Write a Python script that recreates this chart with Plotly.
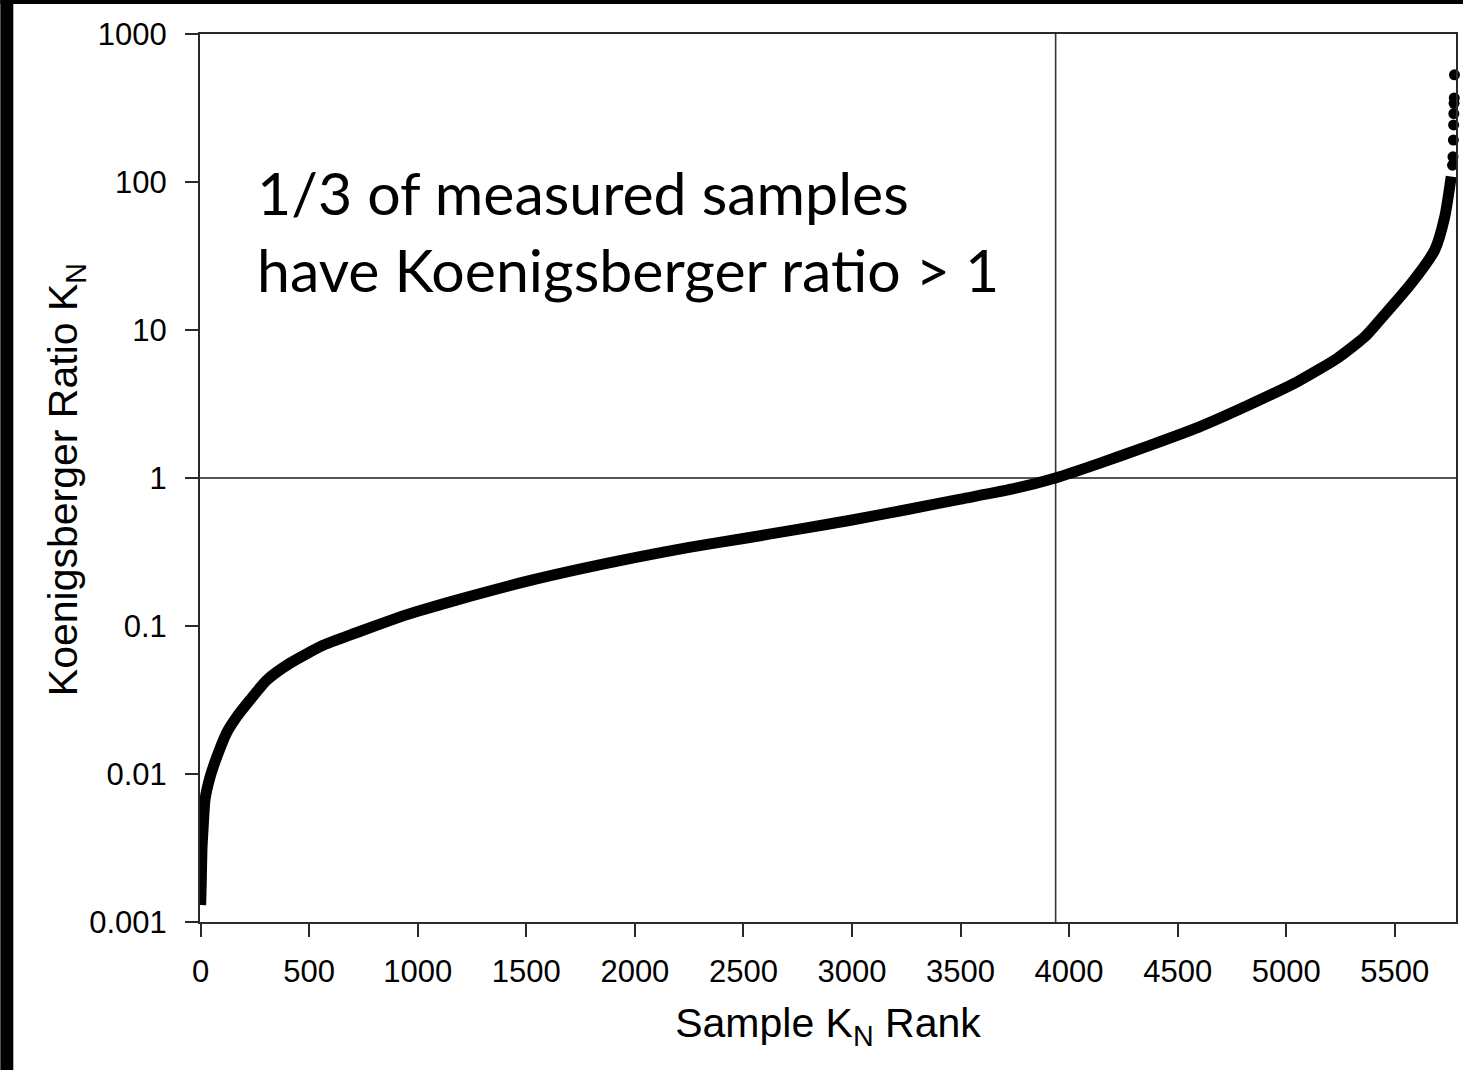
import plotly.graph_objects as go

# ---- data ----
rank = [0, 3, 6, 12, 20, 43, 74, 120, 166, 227, 304, 411, 564, 717, 932,
        1000, 1250, 1500, 1750, 2000, 2250, 2500, 2750, 3000, 3250, 3500, 3750,
        3937, 4136, 4366, 4595, 4825, 5055, 5239, 5362, 5423, 5577, 5684, 5730, 5760]
kn = [0.0013, 0.0019, 0.0031, 0.0045, 0.0067, 0.0095, 0.013, 0.019, 0.0243, 0.0316, 0.043,
      0.056, 0.074, 0.090, 0.117,
      0.126, 0.16, 0.20, 0.243, 0.29, 0.34, 0.39, 0.45, 0.52, 0.61, 0.72, 0.85,
      1.0, 1.25, 1.65, 2.20, 3.10, 4.50, 6.5, 9.0, 11.3, 20.7, 34.7, 58, 109]

# isolated high-value samples at the top end
tail_rank = [5766, 5768, 5770, 5771, 5772, 5773, 5774, 5775]
tail_kn = [130, 148, 192, 243, 290, 340, 370, 530]

x_ticks = [0, 500, 1000, 1500, 2000, 2500, 3000, 3500, 4000, 4500, 5000, 5500]
y_ticks = [0.001, 0.01, 0.1, 1, 10, 100, 1000]
y_ticktext = ["0.001", "0.01", "0.1", "1", "10", "100", "1000"]

threshold_kn = 1
threshold_rank = 3938

fig = go.Figure()
fig.add_trace(go.Scatter(x=rank, y=kn, mode="lines",
                         line=dict(color="black", width=11, shape="spline", smoothing=0.6),
                         showlegend=False))
fig.add_trace(go.Scatter(x=tail_rank, y=tail_kn, mode="markers", cliponaxis=False,
                         marker=dict(color="black", size=11, symbol="circle"),
                         showlegend=False))

W, H = 1465, 1070
L, R, T, B = 200, 7, 34, 148
pw, ph = W - L - R, H - T - B

axis_font = dict(family="Liberation Sans, Arial", size=31, color="black")
title_font = dict(family="Liberation Sans, Arial", size=41, color="black")

fig.update_layout(
    width=W, height=H,
    margin=dict(l=L, r=R, t=T, b=B, pad=0),
    paper_bgcolor="white", plot_bgcolor="white",
    xaxis=dict(range=[-3, 5782], tickvals=x_ticks, ticks="outside", ticklen=13,
               tickwidth=2, tickcolor="#2a2a2a", showline=True, linecolor="#2a2a2a",
               linewidth=2, mirror=True, showgrid=False, zeroline=False,
               tickfont=axis_font, ticklabelstandoff=8,
               title=dict(text="Sample K<sub>N</sub> Rank", font=title_font, standoff=20)),
    yaxis=dict(type="log", range=[-3, 3], tickvals=y_ticks, ticktext=y_ticktext,
               ticks="outside", ticklen=13, tickwidth=2, tickcolor="#2a2a2a",
               showline=True, linecolor="#2a2a2a", linewidth=2, mirror=True,
               showgrid=False, zeroline=False, tickfont=axis_font, ticklabelstandoff=12),
    annotations=[
        dict(text="1/3 of measured samples<br>have Koenigsberger ratio > 1",
             xref="paper", yref="paper", x=(255 - L) / pw, y=1 - (155 - T) / ph,
             xanchor="left", yanchor="top", align="left", showarrow=False,
             font=dict(family="Lato, Open Sans", size=59, color="black")),
        dict(text="Koenigsberger Ratio K<sub>N</sub>", textangle=-90,
             xref="paper", yref="paper", x=(66 - L) / pw, y=1 - (480 - T) / ph,
             xanchor="center", yanchor="middle", showarrow=False, font=title_font),
    ],
)

fig.add_hline(y=threshold_kn, line=dict(color="#1e1e1e", width=1.6), layer="below")
fig.add_vline(x=threshold_rank, line=dict(color="#333333", width=1.6), layer="below")

# black frame strips at the left and top edge of the picture
fig.add_shape(type="rect", xref="paper", yref="paper", x0=-L / pw, x1=(13 - L) / pw,
              y0=-B / ph, y1=1 + T / ph, fillcolor="black", line=dict(width=0), layer="above")
fig.add_shape(type="rect", xref="paper", yref="paper", x0=-L / pw, x1=1 + R / pw,
              y0=1 + (T - 4) / ph, y1=1 + T / ph, fillcolor="black", line=dict(width=0),
              layer="above")

fig.write_html("out.html", config={"displayModeBar": False},
               post_script="document.body.style.margin='0';")
